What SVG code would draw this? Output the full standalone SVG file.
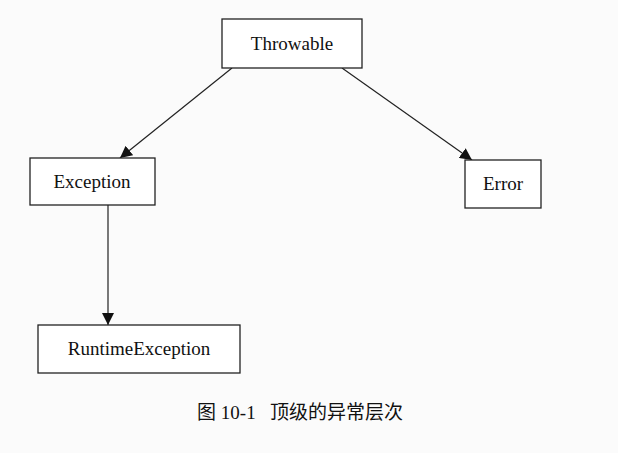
<svg xmlns="http://www.w3.org/2000/svg" width="618" height="453" viewBox="0 0 618 453">
<style>
.box{fill:#fff;stroke:#222;stroke-width:1.3}
.t{font-family:"Liberation Serif",serif;font-size:19px;fill:#111;text-anchor:middle}
.c{stroke:#222;stroke-width:1.2;fill:none}
</style>
<defs><marker id="a" viewBox="0 0 10 10" refX="10" refY="5" markerWidth="12" markerHeight="12" markerUnits="userSpaceOnUse" orient="auto"><path d="M0,0L10,5L0,10z" fill="#111"/></marker></defs>
<rect width="618" height="453" fill="#fbfbfb"/>
<g id="connectors">
<line class="c" x1="232" y1="68" x2="120" y2="158" marker-end="url(#a)"/>
<line class="c" x1="342" y1="68" x2="472" y2="160" marker-end="url(#a)"/>
<line class="c" x1="108" y1="205" x2="108" y2="325" marker-end="url(#a)"/>
</g>
<g id="throwable"><rect class="box" x="222" y="19" width="140" height="49"/><text class="t" x="292" y="50">Throwable</text></g>
<g id="exception"><rect class="box" x="30" y="158" width="125" height="47"/><text class="t" x="92" y="188">Exception</text></g>
<g id="error"><rect class="box" x="465" y="160" width="76" height="48"/><text class="t" x="503" y="190">Error</text></g>
<g id="runtime"><rect class="box" x="38" y="325" width="202" height="48"/><text class="t" x="139" y="355">RuntimeException</text></g>
<text x="300" y="419" style="font-family:'Liberation Serif','Noto Sans CJK SC',serif;font-size:19px;fill:#111;text-anchor:middle" xml:space="preserve">图 10-1   顶级的异常层次</text>
</svg>
